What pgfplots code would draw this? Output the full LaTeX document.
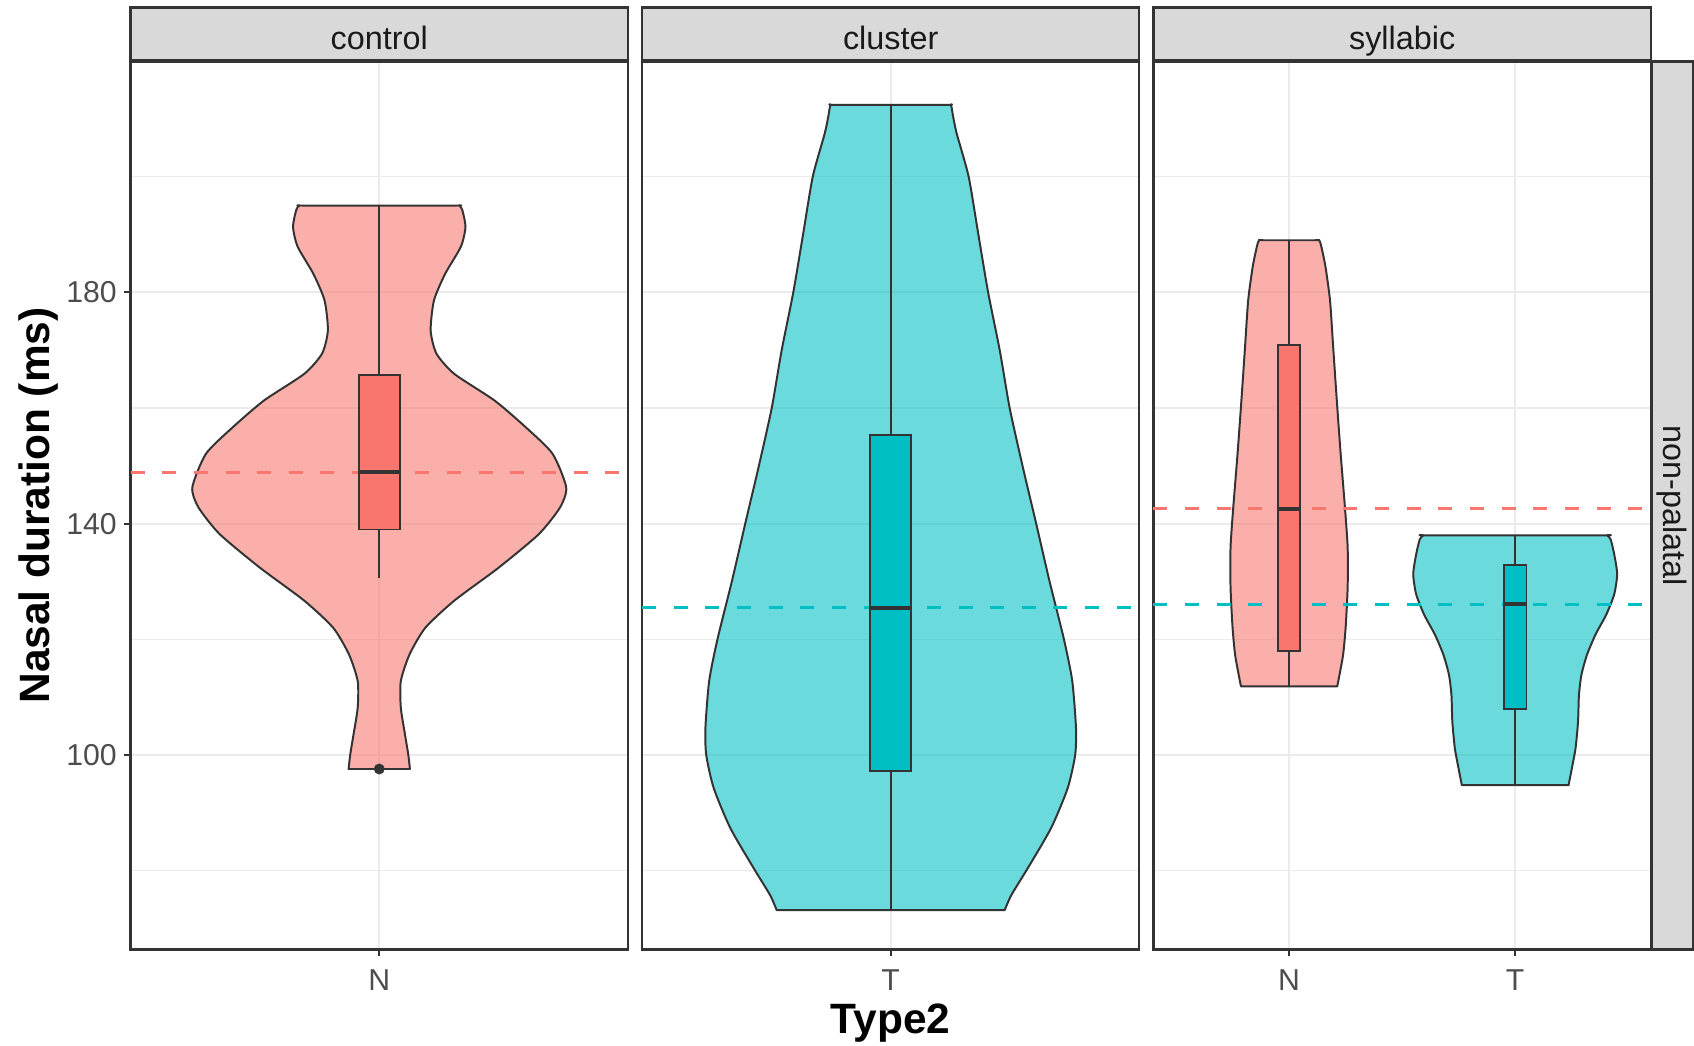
\documentclass[border=0pt]{standalone}
\usepackage{fontspec}
\setmainfont{Liberation Sans}
\usepackage{pgfplots}
\pgfplotsset{compat=1.18}

\definecolor{salmon}{HTML}{F8766D}
\definecolor{cyanb}{HTML}{00BFC4}
\definecolor{outline}{HTML}{333333}
\definecolor{gridc}{HTML}{EBEBEB}
\definecolor{stripfill}{HTML}{D9D9D9}
\definecolor{ticktext}{HTML}{4D4D4D}
\definecolor{striptext}{HTML}{1A1A1A}

\pgfplotsset{
  panel/.style={
    scale only axis, width=138.3pt, height=246.9pt,
    ymin=66.4, ymax=219.9,
    ytick={100,140,180}, minor ytick={80,120,160,200},
    ymajorgrids, yminorgrids, xmajorgrids,
    major grid style={color=gridc, line width=0.55pt},
    minor grid style={color=gridc, line width=0.3pt},
    axis line style={color=outline, line width=0.6pt},
    tick align=outside, major tick length=1.8pt, minor tick length=0pt,
    tick style={color=outline, line width=0.5pt},
    xtick pos=left, ytick pos=left,
    /pgf/number format/assume math mode=true,
    tick label style={font=\fontsize{8.4}{10}\selectfont, color=ticktext},
    xticklabel style={yshift=-0.4pt},
    yticklabel style={xshift=1.5pt},
    every axis title shift=0pt,
    title style={at={(0.5,1)}, anchor=south, yshift=0pt, draw=outline, fill=stripfill,
      line width=0.6pt, minimum width=138.3pt, minimum height=14.7pt, inner sep=0pt,
      text height=8.4pt, text depth=0pt,
      font=\fontsize{9}{10}\selectfont, text=striptext},
  },
  violin/.style={line width=0.55pt, draw=outline, fill opacity=0.58, smooth, tension=0.4, line join=round},
  hline/.style={line width=0.8pt, dash pattern=on 3.9pt off 4.9pt},
  boxst/.style={draw=outline, line width=0.55pt},
  whisk/.style={draw=outline, line width=0.55pt},
  med/.style={draw=outline, line width=1.1pt},
}

\begin{document}
\begin{tikzpicture}

% ---------- control ----------
\begin{axis}[panel, at={(0pt,0pt)}, anchor=south west,
  xmin=0.4, xmax=1.6, xtick={1}, xticklabels={N},
  title={control},
  ylabel={Nasal duration (ms)},
  ylabel style={at={(axis description cs:-0.119,0.5)}, anchor=south,
    font=\fontsize{11.8}{13}\selectfont\bfseries, text=black}]
\addplot[violin, fill=salmon] coordinates {
(0.926,97.6) (0.930,100.1) (0.938,103.6) (0.948,108.2) (0.948,112.8) (0.927,117.4)
(0.889,122.0) (0.819,126.7) (0.712,132.4) (0.615,138.2) (0.564,142.8) (0.549,146.3)
(0.582,152.1) (0.647,156.7) (0.722,161.3) (0.819,165.9) (0.862,169.4) (0.876,173.4)
(0.868,178.6) (0.841,183.2) (0.803,187.9) (0.792,191.3) (0.800,194.3) (0.808,195.0) (0.825,195.0)
(1.175,195.0) (1.192,195.0) (1.200,194.3) (1.208,191.3) (1.197,187.9) (1.159,183.2) (1.132,178.6) (1.124,173.4)
(1.138,169.4) (1.181,165.9) (1.278,161.3) (1.353,156.7) (1.418,152.1) (1.451,146.3)
(1.436,142.8) (1.385,138.2) (1.288,132.4) (1.181,126.7) (1.111,122.0) (1.073,117.4)
(1.052,112.8) (1.052,108.2) (1.062,103.6) (1.070,100.1) (1.074,97.6)} --cycle;
\addplot[hline, salmon] coordinates {(0.4,148.9) (1.6,148.9)};
\addplot[whisk] coordinates {(1,165.7) (1,195.0)};
\addplot[whisk] coordinates {(1,139.0) (1,130.7)};
\addplot[boxst, fill=salmon] coordinates {(0.95,139.0) (1.05,139.0) (1.05,165.7) (0.95,165.7)} --cycle;
\addplot[med] coordinates {(0.95,148.9) (1.05,148.9)};
\addplot[only marks, mark=*, mark size=1.3pt, color=outline] coordinates {(1,97.6)};
\end{axis}

% ---------- cluster ----------
\begin{axis}[panel, at={(142.2pt,0pt)}, anchor=south west,
  xmin=0.4, xmax=1.6, xtick={1}, xticklabels={T},
  yticklabels={}, ytick style={draw=none},
  title={cluster},
  xlabel={Type2},
  xlabel style={at={(axis description cs:0.5,-0.0826)}, anchor=center, inner sep=0pt,
    font=\fontsize{11.8}{13}\selectfont\bfseries, text=black}]
\addplot[violin, fill=cyanb] coordinates {
(0.725,73.2) (0.709,75.8) (0.669,80.5) (0.613,87.4) (0.573,94.3) (0.555,100.0)
(0.553,104.7) (0.562,112.8) (0.582,120.0) (0.617,130.1) (0.649,140.0) (0.681,149.7)
(0.713,160.0) (0.737,170.0) (0.765,180.0) (0.789,190.2) (0.812,200.0) (0.841,207.5)
(0.850,210.6) (0.855,212.4) (0.870,212.4)
(1.130,212.4) (1.145,212.4) (1.150,210.6) (1.159,207.5) (1.188,200.0) (1.211,190.2) (1.235,180.0) (1.263,170.0)
(1.287,160.0) (1.319,149.7) (1.351,140.0) (1.383,130.1) (1.418,120.0) (1.438,112.8)
(1.447,104.7) (1.445,100.0) (1.427,94.3) (1.387,87.4) (1.331,80.5) (1.291,75.8)
(1.275,73.2)} --cycle;
\addplot[hline, cyanb] coordinates {(0.4,125.5) (1.6,125.5)};
\addplot[whisk] coordinates {(1,155.3) (1,212.4)};
\addplot[whisk] coordinates {(1,97.2) (1,73.2)};
\addplot[boxst, fill=cyanb] coordinates {(0.95,97.2) (1.05,97.2) (1.05,155.3) (0.95,155.3)} --cycle;
\addplot[med] coordinates {(0.95,125.5) (1.05,125.5)};
\end{axis}

% ---------- syllabic ----------
\begin{axis}[panel, at={(284.4pt,0pt)}, anchor=south west, clip=false,
  xmin=0.4, xmax=2.6, xtick={1,2}, xticklabels={N,T},
  yticklabels={}, ytick style={draw=none},
  title={syllabic}]
\addplot[violin, fill=salmon] coordinates {
(0.787,111.9) (0.777,113.9) (0.761,117.4) (0.750,122.0) (0.741,129.0) (0.741,135.9)
(0.753,142.8) (0.772,152.1) (0.789,161.3) (0.805,170.5) (0.819,178.6) (0.839,184.4)
(0.858,188.0) (0.867,189.0) (0.885,189.0)
(1.115,189.0) (1.133,189.0) (1.142,188.0) (1.161,184.4) (1.181,178.6) (1.195,170.5) (1.211,161.3) (1.228,152.1)
(1.247,142.8) (1.259,135.9) (1.259,129.0) (1.250,122.0) (1.239,117.4) (1.223,113.9)
(1.213,111.9)} --cycle;
\addplot[violin, fill=cyanb] coordinates {
(1.764,94.8) (1.749,97.8) (1.733,101.2) (1.722,105.8) (1.718,110.4) (1.707,113.9)
(1.682,117.4) (1.644,120.9) (1.597,124.3) (1.562,127.8) (1.549,131.3) (1.562,134.7)
(1.578,137.3) (1.595,138.0) (1.62,138.0)
(2.38,138.0) (2.405,138.0) (2.422,137.3) (2.438,134.7) (2.451,131.3) (2.438,127.8) (2.403,124.3) (2.356,120.9)
(2.318,117.4) (2.293,113.9) (2.282,110.4) (2.278,105.8) (2.267,101.2) (2.251,97.8)
(2.236,94.8)} --cycle;
\addplot[hline, salmon] coordinates {(0.4,142.6) (2.6,142.6)};
\addplot[hline, cyanb] coordinates {(0.4,126.1) (2.6,126.1)};
\addplot[whisk] coordinates {(1,170.9) (1,189.0)};
\addplot[whisk] coordinates {(1,118.0) (1,111.9)};
\addplot[boxst, fill=salmon] coordinates {(0.95,118.0) (1.05,118.0) (1.05,170.9) (0.95,170.9)} --cycle;
\addplot[med] coordinates {(0.95,142.6) (1.05,142.6)};
\addplot[whisk] coordinates {(2,132.9) (2,138.0)};
\addplot[whisk] coordinates {(2,108.0) (2,94.8)};
\addplot[boxst, fill=cyanb] coordinates {(1.95,108.0) (2.05,108.0) (2.05,132.9) (1.95,132.9)} --cycle;
\addplot[med] coordinates {(1.95,126.1) (2.05,126.1)};
\node[draw=outline, fill=stripfill, line width=0.6pt, rotate=-90, anchor=south,
  minimum width=246.9pt, minimum height=11.4pt, inner sep=0pt,
  text height=6.6pt, text depth=1.6pt,
  font=\fontsize{9}{10}\selectfont, text=striptext]
  at (rel axis cs:1,0.5) {non-palatal};
\end{axis}
\path (-36.3pt,-26.7pt) rectangle (434.1pt,264pt);
\end{tikzpicture}
\end{document}
